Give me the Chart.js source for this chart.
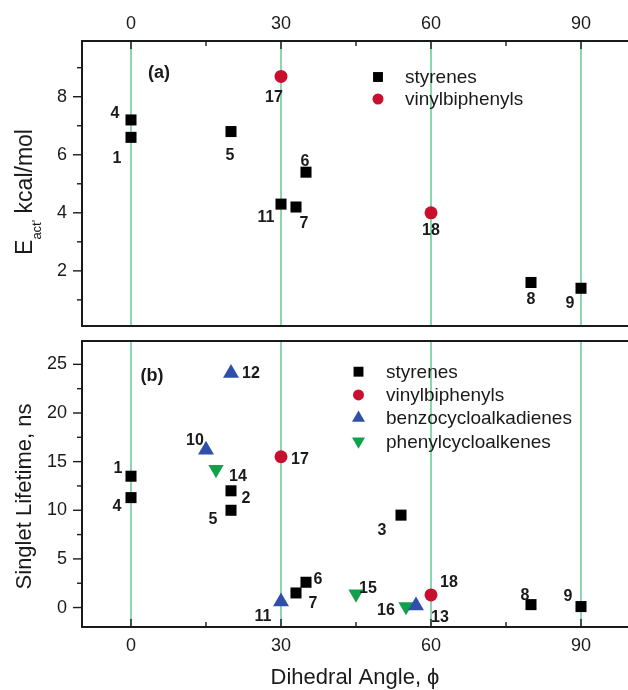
<!DOCTYPE html>
<html>
<head>
<meta charset="utf-8">
<title>Dihedral angle plots</title>
<script src="https://cdn.jsdelivr.net/npm/chart.js@4.4.0/dist/chart.umd.min.js"></script>
<style>
  html, body { margin: 0; padding: 0; background: #fff; }
  #wrap { position: relative; width: 628px; height: 690px; }
  .panel { position: absolute; left: 0; width: 628px; }
  #panelA { top: 0; height: 340px; }
  #panelB { top: 330px; height: 360px; }
</style>
</head>
<body>
<div id="wrap">
  <div class="panel" id="panelA"><canvas id="chartA"></canvas></div>
  <div class="panel" id="panelB"><canvas id="chartB"></canvas></div>
</div>
<script>
// shared x axis (dihedral angle)
const xMajorTicks = [0, 30, 60, 90];
const xMinorTicks = [15, 45, 75];
const seriesNames = ['styrenes', 'vinylbiphenyls', 'benzocycloalkadienes', 'phenylcycloalkenes'];

// panel (a): activation energy
const styA_x = [0, 0, 20, 35, 30, 33, 80, 90];
const styA_y = [7.2, 6.6, 6.8, 5.4, 4.3, 4.2, 1.6, 1.4];
const styA_id = ['4', '1', '5', '6', '11', '7', '8', '9'];
const vinA_x = [30, 60];
const vinA_y = [8.7, 4.0];
const vinA_id = ['17', '18'];
const yMajorA = [2, 4, 6, 8];
const yMinorA = [1, 3, 5, 7, 9];

// panel (b): singlet lifetime
const styB_x = [0, 0, 20, 20, 33, 35, 54, 80, 90];
const styB_y = [13.5, 11.3, 12.0, 10.0, 1.5, 2.6, 9.5, 0.3, 0.1];
const styB_id = ['1', '4', '2', '5', '7', '6', '3', '8', '9'];
const vinB_x = [30, 60];
const vinB_y = [15.5, 1.3];
const vinB_id = ['17', '18'];
const benB_x = [20, 15, 30, 57];
const benB_y = [24.1, 16.2, 0.6, 0.2];
const benB_id = ['12', '10', '11', '13'];
const phnB_x = [17, 45, 55];
const phnB_y = [14.2, 1.4, 0.1];
const phnB_id = ['14', '15', '16'];
const yMajorB = [0, 5, 10, 15, 20, 25];
const yMinorB = [2.5, 7.5, 12.5, 17.5, 22.5];

// where each compound number sits relative to its marker (px)
const labelOffA = {
  '4': [-16, -6], '1': [-14, 21], '5': [-1, 24], '6': [-1, -11], '11': [-15, 13],
  '7': [8, 17], '8': [0, 17], '9': [-11, 15], '17': [-7, 21], '18': [0, 18]
};
const labelOffB = {
  '1': [-13, -8], '4': [-14, 9], '2': [15, 8], '5': [-18, 9], '7': [17, 11], '6': [12, -3],
  '3': [-19, 15], '8': [-6, -9], '9': [-13, -10], '17': [19, 3], '18': [18, -12],
  '12': [20, 0], '10': [-11, -9], '11': [-18, 15], '13': [24, 12],
  '14': [22, 7], '15': [12, -5], '16': [-20, 4]
};

const FONT = '"Liberation Sans", Arial, Helvetica, sans-serif';
const INK = '#1a1a1a';
const RED = '#c8102e';
const BLUE = '#2f4fa8';
const GREEN = '#13a04a';
const REFLINE = '#6fcb9c';
const legendRadius = { rect: 7, circle: 5.5, triangle: 7.5 };

function pts(xs, ys) {
  return xs.map((x, i) => ({ x: x, y: ys[i] }));
}

function series(name, xs, ys, ids, color, style, radius, rotation) {
  return {
    label: name,
    data: pts(xs, ys),
    ids: ids,
    pointStyle: style,
    pointRadius: radius,
    pointHoverRadius: radius,
    pointRotation: rotation || 0,
    backgroundColor: color,
    borderColor: color,
    borderWidth: 0,
    showLine: false
  };
}

function line(ctx, x1, y1, x2, y2) {
  ctx.beginPath();
  ctx.moveTo(x1, y1);
  ctx.lineTo(x2, y2);
  ctx.stroke();
}

// frame, ticks, green guide lines, labels, legend and the y title for one panel
function makeDeco(o) {
  return {
    id: 'panelDeco',
    beforeDatasetsDraw(chart) {
      const { ctx, chartArea: a, scales: { x, y } } = chart;
      ctx.save();
      ctx.strokeStyle = REFLINE;
      ctx.lineWidth = 1.6;
      xMajorTicks.forEach(v => {
        const px = x.getPixelForValue(v);
        line(ctx, px, a.top, px, a.bottom);
      });

      ctx.strokeStyle = INK;
      ctx.lineWidth = 1.4;
      const edge = o.tickSide === 'top' ? a.top : a.bottom;
      const dir = o.tickSide === 'top' ? 1 : -1;
      xMajorTicks.forEach(v => {
        const px = x.getPixelForValue(v);
        line(ctx, px, edge, px, edge + dir * 8);
      });
      xMinorTicks.forEach(v => {
        const px = x.getPixelForValue(v);
        line(ctx, px, edge, px, edge + dir * 5);
      });
      o.yMajor.forEach(v => {
        const py = y.getPixelForValue(v);
        line(ctx, a.left, py, a.left - 9, py);
      });
      o.yMinor.forEach(v => {
        const py = y.getPixelForValue(v);
        line(ctx, a.left, py, a.left - 5, py);
      });

      ctx.lineWidth = 2;
      line(ctx, a.left, a.top, a.right, a.top);
      line(ctx, a.left, a.bottom, a.right, a.bottom);
      line(ctx, a.left, a.top - 1, a.left, a.bottom + 1);
      ctx.restore();
    },
    afterDatasetsDraw(chart) {
      const { ctx } = chart;
      ctx.save();

      // compound numbers
      ctx.fillStyle = INK;
      ctx.font = 'bold 16px ' + FONT;
      ctx.textAlign = 'center';
      ctx.textBaseline = 'middle';
      chart.data.datasets.forEach((ds, di) => {
        const meta = chart.getDatasetMeta(di);
        meta.data.forEach((el, i) => {
          const id = ds.ids[i];
          const off = o.labelOff[id] || [0, 0];
          ctx.fillText(id, el.x + off[0], el.y + off[1]);
        });
      });

      // panel tag
      ctx.font = 'bold 18px ' + FONT;
      ctx.fillText(o.tag, o.tagPos[0], o.tagPos[1]);

      // legend
      ctx.font = '19px ' + FONT;
      ctx.textAlign = 'left';
      chart.data.datasets.forEach((ds, di) => {
        const ly = o.legend.y + di * o.legend.step;
        ctx.fillStyle = ds.backgroundColor;
        ctx.strokeStyle = ds.borderColor;
        const r = legendRadius[ds.pointStyle] || 6;
        Chart.helpers.drawPoint(ctx, { pointStyle: ds.pointStyle, rotation: ds.pointRotation, radius: r, borderWidth: 0 }, o.legend.x, ly);
        ctx.fillStyle = INK;
        ctx.fillText(ds.label, o.legend.textX, ly + 1);
      });

      // rotated y title, parts may be lowered as subscripts
      ctx.fillStyle = INK;
      ctx.translate(o.yTitle.x, o.yTitle.y);
      ctx.rotate(-Math.PI / 2);
      ctx.textAlign = 'left';
      ctx.textBaseline = 'alphabetic';
      let total = 0;
      o.yTitle.parts.forEach(p => {
        ctx.font = p.size + 'px ' + FONT;
        total += ctx.measureText(p.text).width;
      });
      let pos = -total / 2;
      o.yTitle.parts.forEach(p => {
        ctx.font = p.size + 'px ' + FONT;
        ctx.fillText(p.text, pos, p.shift);
        pos += ctx.measureText(p.text).width;
      });
      ctx.restore();
    }
  };
}

function xScale(position, height, padding, extra) {
  return Object.assign({
    type: 'linear',
    position: position,
    min: -9.8,
    max: 99.4,
    afterBuildTicks: s => { s.ticks = xMajorTicks.map(v => ({ value: v })); },
    afterFit: s => { s.height = height; s.paddingLeft = 0; s.paddingRight = 0; },
    grid: { display: false, drawTicks: false },
    border: { display: false },
    ticks: { color: INK, font: { size: 18, family: FONT }, padding: padding, maxRotation: 0, autoSkip: false }
  }, extra || {});
}

function yScale(min, max, majors) {
  return {
    type: 'linear',
    min: min,
    max: max,
    afterBuildTicks: s => { s.ticks = majors.map(v => ({ value: v })); },
    afterFit: s => { s.width = 82; s.paddingTop = 0; s.paddingBottom = 0; },
    grid: { display: false, drawTicks: false },
    border: { display: false },
    ticks: { color: INK, font: { size: 18, family: FONT }, padding: 15 }
  };
}

const chartA = new Chart(document.getElementById('chartA'), {
  type: 'scatter',
  data: {
    datasets: [
      series(seriesNames[0], styA_x, styA_y, styA_id, '#000', 'rect', 7.8),
      series(seriesNames[1], vinA_x, vinA_y, vinA_id, RED, 'circle', 6.5)
    ]
  },
  options: {
    responsive: true,
    maintainAspectRatio: false,
    animation: false,
    layout: { autoPadding: false, padding: { left: 0, right: 0, top: 0, bottom: 14 } },
    scales: {
      x: xScale('top', 41, 6),
      y: yScale(0.1, 9.92, yMajorA)
    },
    plugins: {
      legend: { display: false },
      tooltip: { enabled: false }
    }
  },
  plugins: [makeDeco({
    tickSide: 'top',
    yMajor: yMajorA,
    yMinor: yMinorA,
    labelOff: labelOffA,
    tag: '(a)',
    tagPos: [159, 73],
    legend: { x: 378, y: 77, step: 22, textX: 405 },
    yTitle: {
      x: 32, y: 192,
      parts: [
        { text: 'E', size: 23, shift: 0 },
        { text: "act'", size: 13, shift: 9 },
        { text: ' kcal/mol', size: 23, shift: 0 }
      ]
    }
  })]
});

const chartB = new Chart(document.getElementById('chartB'), {
  type: 'scatter',
  data: {
    datasets: [
      series(seriesNames[0], styB_x, styB_y, styB_id, '#000', 'rect', 7.8),
      series(seriesNames[1], vinB_x, vinB_y, vinB_id, RED, 'circle', 6.5),
      series(seriesNames[2], benB_x, benB_y, benB_id, BLUE, 'triangle', 9.2),
      series(seriesNames[3], phnB_x, phnB_y, phnB_id, GREEN, 'triangle', 8.8, 180)
    ]
  },
  options: {
    responsive: true,
    maintainAspectRatio: false,
    animation: false,
    layout: { autoPadding: false, padding: { left: 0, right: 0, top: 11, bottom: 0 } },
    scales: {
      x: xScale('bottom', 63, 8, {
        title: {
          display: true,
          text: 'Dihedral Angle, \u03D5',
          color: INK,
          font: { size: 22, family: FONT, lineHeight: 1.1 },
          padding: { top: 0, bottom: 0 }
        }
      }),
      y: yScale(-2, 27.4, yMajorB)
    },
    plugins: {
      legend: { display: false },
      tooltip: { enabled: false }
    }
  },
  plugins: [makeDeco({
    tickSide: 'bottom',
    yMajor: yMajorB,
    yMinor: yMinorB,
    labelOff: labelOffB,
    tag: '(b)',
    tagPos: [152, 46],
    legend: { x: 358.5, y: 41.7, step: 23.2, textX: 386 },
    yTitle: {
      x: 31, y: 166.5,
      parts: [{ text: 'Singlet Lifetime, ns', size: 22, shift: 0 }]
    }
  })]
});
</script>
</body>
</html>
